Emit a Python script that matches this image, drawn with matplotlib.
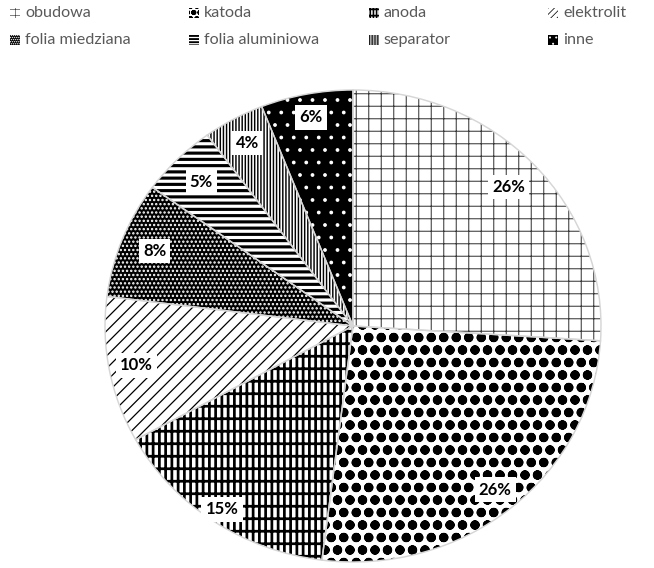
import matplotlib
matplotlib.use("Agg")
import numpy as np
import matplotlib.pyplot as plt
from matplotlib.patches import Rectangle

categories = ["obudowa", "katoda", "anoda", "elektrolit",
              "folia miedziana", "folia aluminiowa", "separator", "inne"]
values = [26, 26, 15, 10, 8, 5, 4, 6]

# pattern styles: (facecolor, hatch, hatch colour, hatch linewidth)
styles = [
    ("white", "+", "#3a3a3a", 1.0),
    ("white", "o", "black", 4.2),
    ("white", "||-", "black", 2.6),
    ("white", "//", "black", 1.2),
    ("black", "...", "white", 1.5),
    ("white", "--", "black", 3.0),
    ("white", "||||", "black", 1.4),
    ("black", ".", "white", 1.2),
]
# radial position of each percentage label (fraction of radius)
label_radius = [0.86, 0.90, 0.94, 0.89, 0.86, 0.865, 0.885, 0.90]

DPI = 75
W, H = 655, 568
plt.rcParams['font.family'] = ['Lato', 'DejaVu Sans']
fig = plt.figure(figsize=(W / DPI, H / DPI), dpi=DPI)

left_px, top_px, right_px, bottom_px = 105, 90, 601, 562
ax = fig.add_axes([left_px / W, 1 - bottom_px / H,
                   (right_px - left_px) / W, (bottom_px - top_px) / H])

wedges, texts, autotexts = ax.pie(
    values, startangle=90, counterclock=False, radius=1,
    autopct=lambda p: f"{p:.0f}%", pctdistance=0.88,
    wedgeprops=dict(linewidth=0),
    textprops=dict(fontsize=16, fontweight='bold', color='black'))

def style_patch(p, st, dense=False):
    fc, hatch, hc, hlw = st
    p.set_facecolor(fc)
    p.set_edgecolor(hc)
    p.set_hatch(hatch * 2 if dense else hatch)
    lw = hlw * 0.6 if dense else hlw
    if hasattr(p, "set_hatch_linewidth"):
        p.set_hatch_linewidth(lw)
    else:
        p._hatch_linewidth = lw

for w, st in zip(wedges, styles):
    style_patch(w, st)
    w.set_linewidth(0)

ax.pie(values, startangle=90, counterclock=False, radius=1,
       wedgeprops=dict(fill=False, edgecolor='#d6d6d6', linewidth=1.4))

for w, t, rr in zip(wedges, autotexts, label_radius):
    ang = np.deg2rad((w.theta1 + w.theta2) / 2)
    t.set_position((rr * np.cos(ang), rr * np.sin(ang)))
    t.set_bbox(dict(facecolor='white', edgecolor='none', pad=4))
    t.set_zorder(10)

ax.set_aspect('auto')
ax.set_xlim(-1, 1)
ax.set_ylim(-1, 1)
ax.axis('off')

col0, col_step = 10, 179.3
row_y = [13, 40]
icon = 10
for i, (name, st) in enumerate(zip(categories, styles)):
    c, r = i % 4, i // 4
    x = col0 + c * col_step
    y = row_y[r]
    rect = Rectangle((x / W, 1 - (y + icon / 2) / H), icon / W, icon / H,
                     transform=fig.transFigure, linewidth=0)
    style_patch(rect, st, dense=True)
    rect.set_linewidth(0)
    fig.add_artist(rect)
    fig.text((x + 15) / W, 1 - y / H, name, fontsize=15.5, color='#595959',
             va='center', ha='left')

fig.savefig("out.png", dpi=DPI, facecolor='white')
